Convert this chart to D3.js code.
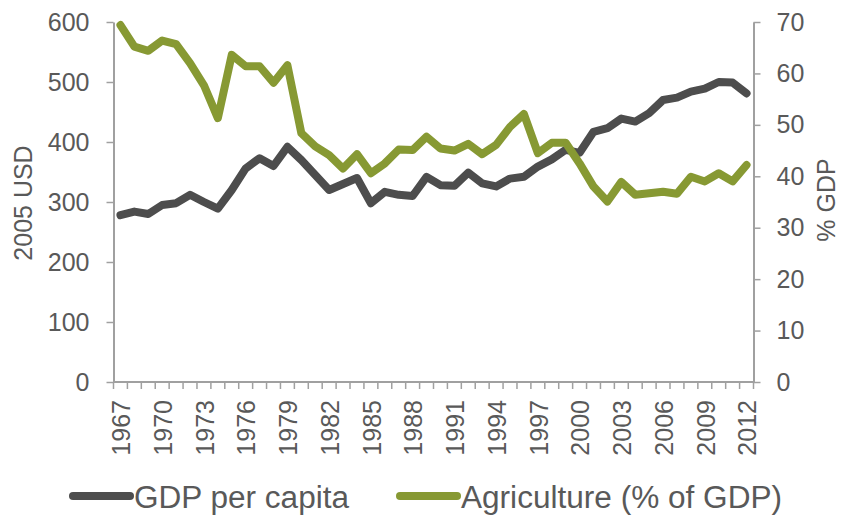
<!DOCTYPE html>
<html>
<head>
<meta charset="utf-8">
<script src="https://cdn.jsdelivr.net/npm/d3@7"></script>
<style>
    body { margin: 0; background: #fff; }
    svg text { font-family: "Liberation Sans", Arial, sans-serif; fill: #595959; }
</style>
</head>
<body>
<script>
// data
const years = d3.range(1967, 2013);
const gdpPerCapita = [278, 284, 280, 295, 298, 312, 300, 289, 320, 356, 373, 360, 392, 370, 345, 320,
    330, 340, 298, 317, 312, 310, 342, 328, 327, 349, 331, 326, 339, 342, 359, 371, 387, 382,
    417, 423, 439, 434, 448, 470, 474, 484, 489, 500, 499, 481];
const agriculture = [69.4, 65.2, 64.4, 66.4, 65.7, 62.0, 57.7, 51.3, 63.6, 61.4, 61.4, 58.2, 61.6, 48.4,
    45.8, 44.1, 41.5, 44.3, 40.6, 42.5, 45.2, 45.1, 47.7, 45.4, 45.0, 46.3, 44.3, 46.1, 49.6, 52.1,
    44.5, 46.5, 46.5, 42.5, 38.0, 35.1, 38.9, 36.4, 36.7, 37.0, 36.6, 39.9, 39.0, 40.6, 39.0, 42.2];
const leftTicks = [0, 100, 200, 300, 400, 500, 600];
const rightTicks = [0, 10, 20, 30, 40, 50, 60, 70];
const yearLabels = years.filter((d, i) => i % 3 === 0);

const width = 841, height = 516;
const plotLeft = 113.5, plotRight = 753.5, plotTop = 22, plotBottom = 382;
const axisColor = "#a0a0a0";

const svg = d3.select("body").append("svg")
    .attr("width", width)
    .attr("height", height);

const x = d3.scaleBand().domain(years).range([plotLeft, plotRight]);
const yL = d3.scaleLinear().domain([0, 600]).range([plotBottom, plotTop]);
const yR = d3.scaleLinear().domain([0, 70]).range([plotBottom, plotTop]);

// left axis
const gl = svg.append("g")
    .attr("transform", `translate(${plotLeft},0)`)
    .call(d3.axisLeft(yL).tickValues(leftTicks).tickSize(7).tickPadding(17).tickSizeOuter(0));

// right axis
const gr = svg.append("g")
    .attr("transform", `translate(${plotRight},0)`)
    .call(d3.axisRight(yR).tickValues(rightTicks).tickSize(7).tickPadding(16).tickSizeOuter(0));

// bottom axis: ticks on band edges, labels every 3 years
const gb = svg.append("g")
    .attr("transform", `translate(0,${plotBottom})`);
gb.append("line")
    .attr("x1", plotLeft).attr("x2", plotRight)
    .attr("stroke", axisColor).attr("stroke-width", 2);
gb.selectAll("line.tk")
    .data(years.concat([null]))
    .join("line")
    .attr("class", "tk")
    .attr("x1", (d, i) => plotLeft + i * x.step())
    .attr("x2", (d, i) => plotLeft + i * x.step())
    .attr("y1", 0).attr("y2", 7)
    .attr("stroke", axisColor).attr("stroke-width", 1.5);
gb.selectAll("text")
    .data(yearLabels)
    .join("text")
    .attr("transform", d => `translate(${x(d) + x.bandwidth() / 2 + 1},18) rotate(-90)`)
    .attr("text-anchor", "end")
    .attr("dy", "0.35em")
    .style("font-size", "25px")
    .text(d => d);

[gl, gr].forEach(g => {
    g.select(".domain").attr("stroke", axisColor).attr("stroke-width", 2);
    g.selectAll(".tick line").attr("stroke", axisColor).attr("stroke-width", 1.5);
    g.selectAll(".tick text").style("font-size", "25px").attr("fill", "#595959");
});

// axis titles
svg.append("text")
    .attr("transform", "translate(23,203) rotate(-90)")
    .attr("text-anchor", "middle")
    .attr("dy", "0.35em")
    .style("font-size", "25px")
    .text("2005 USD");
svg.append("text")
    .attr("transform", "translate(826,200) rotate(-90)")
    .attr("text-anchor", "middle")
    .attr("dy", "0.35em")
    .style("font-size", "25px")
    .text("% GDP");

// lines
const cx = d => x(d) + x.bandwidth() / 2;
const lineL = d3.line().x((d, i) => cx(years[i])).y(d => yL(d));
const lineR = d3.line().x((d, i) => cx(years[i])).y(d => yR(d));

svg.append("path")
    .attr("d", lineL(gdpPerCapita))
    .attr("fill", "none")
    .attr("stroke", "#4d4d4d")
    .attr("stroke-width", 8)
    .attr("stroke-linejoin", "round")
    .attr("stroke-linecap", "round");

svg.append("path")
    .attr("d", lineR(agriculture))
    .attr("fill", "none")
    .attr("stroke", "#879933")
    .attr("stroke-width", 8)
    .attr("stroke-linejoin", "round")
    .attr("stroke-linecap", "round");

// legend
const legend = [
    {name: "GDP per capita", color: "#4d4d4d", x: 73, w: 215},
    {name: "Agriculture (% of GDP)", color: "#879933", x: 400, w: 321}
];
const lg = svg.append("g").selectAll("g")
    .data(legend)
    .join("g")
    .attr("transform", d => `translate(${d.x},496)`);
lg.append("line")
    .attr("x1", 0).attr("x2", 57)
    .attr("stroke", d => d.color)
    .attr("stroke-width", 8)
    .attr("stroke-linecap", "round");
lg.append("text")
    .attr("x", 61)
    .attr("y", 12)
    .attr("textLength", d => d.w)
    .attr("lengthAdjust", "spacingAndGlyphs")
    .style("font-size", "31px")
    .text(d => d.name);
</script>
</body>
</html>
